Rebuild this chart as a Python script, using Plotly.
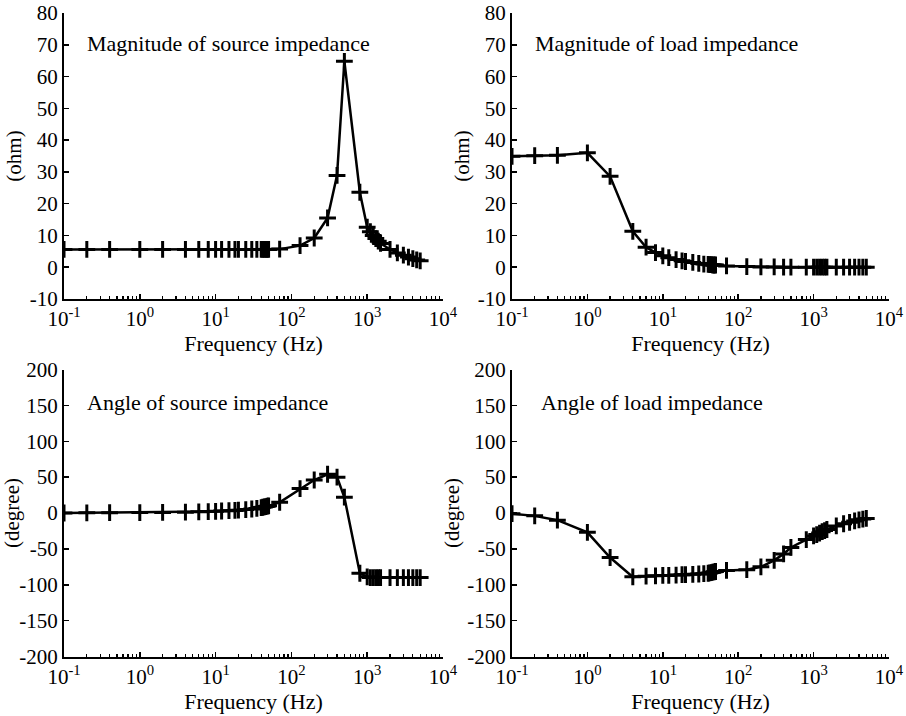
import plotly.graph_objects as go

freq = [0.1, 0.2, 0.4, 1, 2, 4, 6, 8, 10, 12, 15, 18, 20, 25, 30, 35, 40, 42, 44, 46, 48, 50,
        70, 130, 200, 300, 400, 500, 800, 1000, 1100, 1200, 1300, 1400, 1500,
        2000, 2500, 3000, 3500, 4000, 4500, 5000]

mag_source = [5.6, 5.6, 5.6, 5.6, 5.6, 5.6, 5.6, 5.6, 5.6, 5.6, 5.6, 5.6, 5.6, 5.6, 5.6, 5.6,
              5.6, 5.6, 5.6, 5.6, 5.6, 5.6,
              5.7, 6.8, 9.2, 15.5, 28.9, 64.8, 23.6, 12.6, 11.2, 10.0, 9.0, 8.2, 7.5,
              5.6, 4.5, 3.8, 3.2, 2.7, 2.3, 2.0]

mag_load = [34.9, 35.1, 35.2, 36.0, 28.6, 11.3, 6.3, 4.6, 3.6, 3.0, 2.4, 2.0, 1.8, 1.5, 1.2, 1.0,
            0.9, 0.8, 0.8, 0.7, 0.7, 0.7,
            0.4, 0.2, 0.1, 0.1, 0.0, 0.0, 0.0, 0.0, 0.0, 0.0, 0.0, 0.0, 0.0,
            0.0, 0.0, 0.0, 0.0, 0.0, 0.0, 0.0]

ang_source = [0.0, 0.2, 0.4, 0.6, 0.8, 1.2, 1.6, 2.0, 2.4, 2.8, 3.2, 3.6, 4.0, 4.8, 5.6, 6.4,
              7.5, 8.0, 8.5, 9.0, 9.5, 10.0,
              15.0, 34.0, 46.0, 54.0, 50.0, 22.0, -84.0, -89.0, -90.0, -90.0, -90.0, -90.0, -90.0,
              -90.0, -90.0, -90.0, -90.0, -90.0, -90.0, -90.0]

ang_load = [-1.0, -4.0, -10.0, -27.0, -62.0, -89.0, -88.0, -87.5, -87.0, -87.0, -86.5, -86.0, -86.0,
            -85.5, -85.0, -84.5, -84.0, -83.5, -83.0, -82.5, -82.0, -81.5,
            -80.0, -79.0, -75.0, -66.0, -57.0, -48.0, -37.0, -32.0, -30.0, -28.0, -26.0, -24.5, -23.0,
            -18.0, -15.0, -13.0, -11.0, -9.5, -8.5, -7.5]

titles = ["Magnitude of source impedance", "Magnitude of load impedance",
          "Angle of source impedance", "Angle of load impedance"]
ylabels = ["(ohm)", "(ohm)", "(degree)", "(degree)"]
x_tickvals = [0.1, 1, 10, 100, 1000, 10000]
x_ticktext = ["10<sup>-1</sup>", "10<sup>0</sup>", "10<sup>1</sup>", "10<sup>2</sup>",
              "10<sup>3</sup>", "10<sup>4</sup>"]
mag_ticks = [-10, 0, 10, 20, 30, 40, 50, 60, 70, 80]
ang_ticks = [-200, -150, -100, -50, 0, 50, 100, 150, 200]

FONT = "Liberation Serif"
series = [mag_source, mag_load, ang_source, ang_load]

W, H = 906, 716


def dx(px):
    return px / W


def dy(py):
    return 1 - py / H


xdoms = [[dx(64), dx(443)], [dx(512), dx(889)]]
ydoms = [[dy(299), dy(13)], [dy(656.5), dy(369.5)]]

minor_vals = []
for dec in [0.1, 1, 10, 100, 1000]:
    for m in range(2, 10):
        minor_vals.append(dec * m)

fig = go.Figure()
layout = {}
for i in range(4):
    r, c = divmod(i, 2)
    xa = "x" if i == 0 else f"x{i+1}"
    ya = "y" if i == 0 else f"y{i+1}"
    fig.add_trace(go.Scatter(
        x=freq, y=series[i], xaxis=xa, yaxis=ya, mode="lines+markers",
        line=dict(color="black", width=2.5),
        marker=dict(symbol="cross-thin", size=12, line=dict(color="black", width=3)),
        showlegend=False, hoverinfo="skip"))
    xkey = "xaxis" if i == 0 else f"xaxis{i+1}"
    ykey = "yaxis" if i == 0 else f"yaxis{i+1}"
    rng = [-10, 80] if r == 0 else [-200, 200]
    yt = mag_ticks if r == 0 else ang_ticks
    layout[xkey] = dict(
        type="log", domain=xdoms[c], anchor=ya, range=[-1, 4],
        tickvals=x_tickvals, ticktext=x_ticktext, ticks="inside", ticklen=5, tickwidth=1.5,
        tickcolor="black", showline=True, linecolor="black", linewidth=2, showgrid=False,
        zeroline=False, tickfont=dict(family=FONT, size=21, color="black"),
        minor=dict(tickvals=minor_vals, ticks="inside", ticklen=3, tickwidth=1.2,
                   tickcolor="black", showgrid=False),
        title=dict(text="Frequency (Hz)", font=dict(family=FONT, size=22, color="black"), standoff=0),
        automargin=False)
    layout[ykey] = dict(
        domain=ydoms[r], anchor=xa, range=rng,
        tickvals=yt, ticktext=[str(v) for v in yt],
        ticks="inside", ticklen=5, tickwidth=1.5, tickcolor="black",
        showline=True, linecolor="black", linewidth=2, showgrid=False, zeroline=False,
        tickfont=dict(family=FONT, size=21, color="black"),
        title=dict(text=ylabels[i], font=dict(family=FONT, size=21, color="black"), standoff=2),
        automargin=False)
    fig.add_annotation(
        xref=f"{xa} domain", yref=f"{ya} domain", x=0.055 if i != 3 else 0.072,
        y=0.945 if r == 0 else 0.935,
        xanchor="left", yanchor="top", text=titles[i], showarrow=False,
        font=dict(family=FONT, size=22, color="black"))

fig.update_layout(
    width=W, height=H, margin=dict(l=0, r=0, t=0, b=0),
    paper_bgcolor="white", plot_bgcolor="white", **layout)

fig.write_html(
    "out.html",
    config={"displayModeBar": False, "staticPlot": True},
    post_script="document.body.style.margin='0';document.body.style.overflow='hidden';")
